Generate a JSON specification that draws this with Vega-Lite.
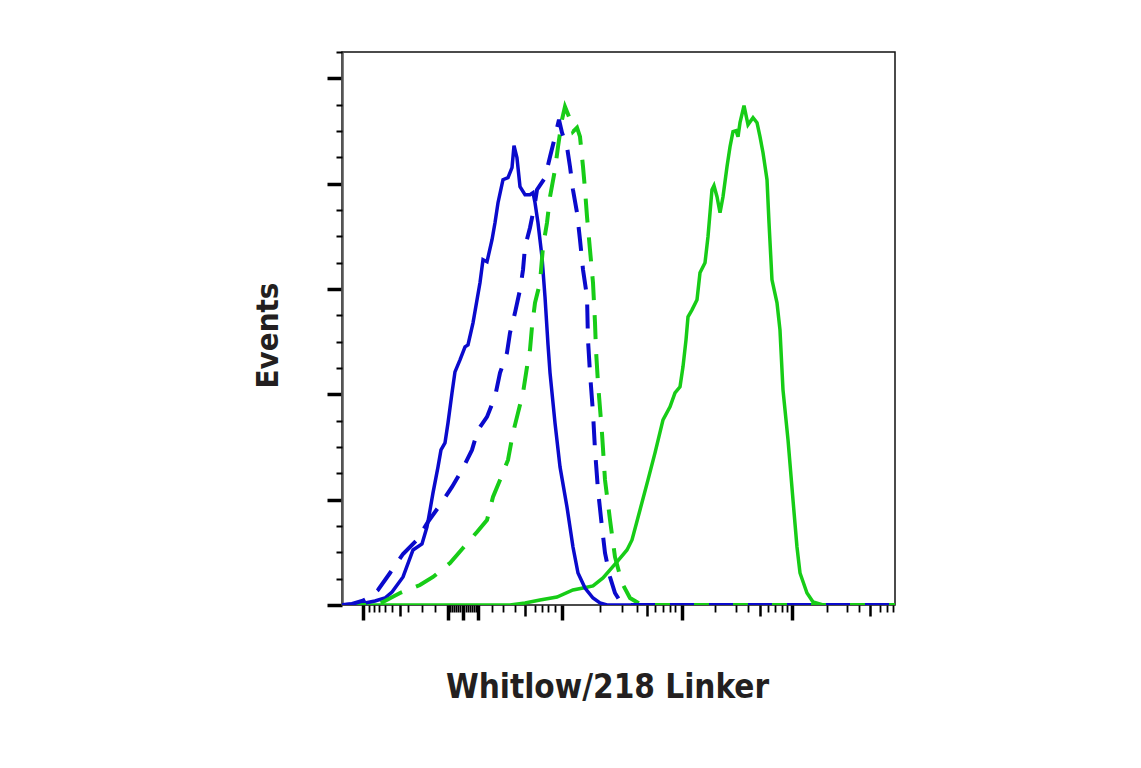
{
  "$schema": "https://vega.github.io/schema/vega-lite/v6.json",
  "autosize": "none",
  "padding": {"left": 342, "top": 52, "right": 246, "bottom": 163},
  "width": 553,
  "height": 553,
  "background": "white",
  "config": {"view": {"stroke": "#111", "strokeWidth": 1.5}},
  "data": {"values": [
    {"series": "blue solid", "channel": 0, "events": 0},
    {"series": "blue solid", "channel": 24.1, "events": 1.9},
    {"series": "blue solid", "channel": 42.6, "events": 3.8},
    {"series": "blue solid", "channel": 61.1, "events": 7.6},
    {"series": "blue solid", "channel": 79.6, "events": 13.3},
    {"series": "blue solid", "channel": 92.6, "events": 24.7},
    {"series": "blue solid", "channel": 113.0, "events": 53.2},
    {"series": "blue solid", "channel": 131.5, "events": 104.5},
    {"series": "blue solid", "channel": 148.1, "events": 115.9},
    {"series": "blue solid", "channel": 157.4, "events": 148.2},
    {"series": "blue solid", "channel": 163.0, "events": 180.5},
    {"series": "blue solid", "channel": 168.5, "events": 212.8},
    {"series": "blue solid", "channel": 177.8, "events": 262.2},
    {"series": "blue solid", "channel": 183.3, "events": 294.5},
    {"series": "blue solid", "channel": 190.7, "events": 307.8},
    {"series": "blue solid", "channel": 196.3, "events": 345.8},
    {"series": "blue solid", "channel": 203.7, "events": 402.8},
    {"series": "blue solid", "channel": 209.2, "events": 442.7},
    {"series": "blue solid", "channel": 218.5, "events": 465.5},
    {"series": "blue solid", "channel": 227.8, "events": 490.2},
    {"series": "blue solid", "channel": 233.3, "events": 494.0},
    {"series": "blue solid", "channel": 242.6, "events": 535.8},
    {"series": "blue solid", "channel": 255.5, "events": 611.8},
    {"series": "blue solid", "channel": 261.1, "events": 655.5},
    {"series": "blue solid", "channel": 268.5, "events": 651.7},
    {"series": "blue solid", "channel": 277.8, "events": 693.5},
    {"series": "blue solid", "channel": 283.3, "events": 725.8},
    {"series": "blue solid", "channel": 288.9, "events": 763.8},
    {"series": "blue solid", "channel": 298.1, "events": 807.5},
    {"series": "blue solid", "channel": 307.4, "events": 811.3},
    {"series": "blue solid", "channel": 314.8, "events": 830.3},
    {"series": "blue solid", "channel": 318.5, "events": 872.1},
    {"series": "blue solid", "channel": 324.0, "events": 849.3},
    {"series": "blue solid", "channel": 329.6, "events": 794.2},
    {"series": "blue solid", "channel": 338.9, "events": 779.0},
    {"series": "blue solid", "channel": 348.1, "events": 779.0},
    {"series": "blue solid", "channel": 353.7, "events": 782.8},
    {"series": "blue solid", "channel": 357.4, "events": 763.8},
    {"series": "blue solid", "channel": 362.9, "events": 725.8},
    {"series": "blue solid", "channel": 370.3, "events": 661.2},
    {"series": "blue solid", "channel": 375.9, "events": 585.2},
    {"series": "blue solid", "channel": 381.5, "events": 494.0},
    {"series": "blue solid", "channel": 385.2, "events": 440.8},
    {"series": "blue solid", "channel": 394.4, "events": 345.8},
    {"series": "blue solid", "channel": 403.7, "events": 262.2},
    {"series": "blue solid", "channel": 416.6, "events": 186.2},
    {"series": "blue solid", "channel": 427.7, "events": 110.2},
    {"series": "blue solid", "channel": 437.0, "events": 60.8},
    {"series": "blue solid", "channel": 450.0, "events": 32.3},
    {"series": "blue solid", "channel": 464.8, "events": 13.3},
    {"series": "blue solid", "channel": 477.7, "events": 3.8},
    {"series": "blue solid", "channel": 490.7, "events": 0},
    {"series": "blue solid", "channel": 1024, "events": 0},

    {"series": "blue dashed", "channel": 0, "events": 0},
    {"series": "blue dashed", "channel": 18.5, "events": 1.9},
    {"series": "blue dashed", "channel": 37.0, "events": 7.6},
    {"series": "blue dashed", "channel": 51.8, "events": 15.2},
    {"series": "blue dashed", "channel": 66.7, "events": 28.5},
    {"series": "blue dashed", "channel": 88.9, "events": 60.8},
    {"series": "blue dashed", "channel": 113.0, "events": 96.9},
    {"series": "blue dashed", "channel": 138.9, "events": 123.5},
    {"series": "blue dashed", "channel": 159.2, "events": 157.7},
    {"series": "blue dashed", "channel": 181.5, "events": 190.0},
    {"series": "blue dashed", "channel": 203.7, "events": 224.2},
    {"series": "blue dashed", "channel": 222.2, "events": 256.5},
    {"series": "blue dashed", "channel": 240.7, "events": 294.5},
    {"series": "blue dashed", "channel": 251.8, "events": 332.5},
    {"series": "blue dashed", "channel": 268.5, "events": 357.2},
    {"series": "blue dashed", "channel": 283.3, "events": 395.2},
    {"series": "blue dashed", "channel": 292.6, "events": 440.8},
    {"series": "blue dashed", "channel": 305.5, "events": 478.8},
    {"series": "blue dashed", "channel": 311.1, "events": 516.8},
    {"series": "blue dashed", "channel": 320.3, "events": 554.8},
    {"series": "blue dashed", "channel": 329.6, "events": 598.5},
    {"series": "blue dashed", "channel": 335.2, "events": 636.5},
    {"series": "blue dashed", "channel": 338.9, "events": 680.2},
    {"series": "blue dashed", "channel": 348.1, "events": 716.3},
    {"series": "blue dashed", "channel": 357.4, "events": 763.8},
    {"series": "blue dashed", "channel": 361.1, "events": 788.5},
    {"series": "blue dashed", "channel": 375.9, "events": 811.3},
    {"series": "blue dashed", "channel": 385.2, "events": 851.2},
    {"series": "blue dashed", "channel": 394.4, "events": 889.2},
    {"series": "blue dashed", "channel": 401.8, "events": 921.5},
    {"series": "blue dashed", "channel": 407.4, "events": 896.8},
    {"series": "blue dashed", "channel": 416.6, "events": 870.2},
    {"series": "blue dashed", "channel": 422.2, "events": 832.2},
    {"series": "blue dashed", "channel": 427.7, "events": 788.5},
    {"series": "blue dashed", "channel": 435.2, "events": 744.8},
    {"series": "blue dashed", "channel": 440.7, "events": 693.5},
    {"series": "blue dashed", "channel": 446.3, "events": 636.5},
    {"series": "blue dashed", "channel": 453.7, "events": 585.2},
    {"series": "blue dashed", "channel": 455.5, "events": 503.5},
    {"series": "blue dashed", "channel": 459.2, "events": 440.8},
    {"series": "blue dashed", "channel": 464.8, "events": 364.8},
    {"series": "blue dashed", "channel": 468.5, "events": 294.5},
    {"series": "blue dashed", "channel": 474.0, "events": 218.5},
    {"series": "blue dashed", "channel": 481.4, "events": 148.2},
    {"series": "blue dashed", "channel": 487.0, "events": 98.8},
    {"series": "blue dashed", "channel": 496.3, "events": 53.2},
    {"series": "blue dashed", "channel": 505.5, "events": 22.8},
    {"series": "blue dashed", "channel": 514.8, "events": 7.6},
    {"series": "blue dashed", "channel": 527.7, "events": 0},
    {"series": "blue dashed", "channel": 1024, "events": 0},

    {"series": "green dashed", "channel": 0, "events": 0},
    {"series": "green dashed", "channel": 61.1, "events": 0},
    {"series": "green dashed", "channel": 75.9, "events": 5.7},
    {"series": "green dashed", "channel": 107.4, "events": 22.8},
    {"series": "green dashed", "channel": 144.4, "events": 38.0},
    {"series": "green dashed", "channel": 168.5, "events": 53.2},
    {"series": "green dashed", "channel": 200.0, "events": 79.8},
    {"series": "green dashed", "channel": 224.1, "events": 108.3},
    {"series": "green dashed", "channel": 250.0, "events": 138.7},
    {"series": "green dashed", "channel": 268.5, "events": 161.5},
    {"series": "green dashed", "channel": 279.6, "events": 205.2},
    {"series": "green dashed", "channel": 292.6, "events": 237.5},
    {"series": "green dashed", "channel": 307.4, "events": 275.5},
    {"series": "green dashed", "channel": 316.6, "events": 326.8},
    {"series": "green dashed", "channel": 325.9, "events": 364.8},
    {"series": "green dashed", "channel": 335.2, "events": 402.8},
    {"series": "green dashed", "channel": 342.6, "events": 452.2},
    {"series": "green dashed", "channel": 348.1, "events": 484.5},
    {"series": "green dashed", "channel": 351.8, "events": 528.2},
    {"series": "green dashed", "channel": 357.4, "events": 573.8},
    {"series": "green dashed", "channel": 366.6, "events": 611.8},
    {"series": "green dashed", "channel": 372.2, "events": 680.2},
    {"series": "green dashed", "channel": 379.6, "events": 725.8},
    {"series": "green dashed", "channel": 385.2, "events": 775.2},
    {"series": "green dashed", "channel": 394.4, "events": 826.5},
    {"series": "green dashed", "channel": 400.0, "events": 870.2},
    {"series": "green dashed", "channel": 407.4, "events": 921.5},
    {"series": "green dashed", "channel": 412.9, "events": 946.2},
    {"series": "green dashed", "channel": 420.3, "events": 927.2},
    {"series": "green dashed", "channel": 427.7, "events": 898.7},
    {"series": "green dashed", "channel": 435.2, "events": 906.3},
    {"series": "green dashed", "channel": 440.7, "events": 889.2},
    {"series": "green dashed", "channel": 446.3, "events": 832.2},
    {"series": "green dashed", "channel": 450.0, "events": 788.5},
    {"series": "green dashed", "channel": 453.7, "events": 737.2},
    {"series": "green dashed", "channel": 459.2, "events": 674.5},
    {"series": "green dashed", "channel": 464.8, "events": 611.8},
    {"series": "green dashed", "channel": 468.5, "events": 535.8},
    {"series": "green dashed", "channel": 470.3, "events": 484.5},
    {"series": "green dashed", "channel": 474.0, "events": 421.8},
    {"series": "green dashed", "channel": 481.4, "events": 326.8},
    {"series": "green dashed", "channel": 487.0, "events": 237.5},
    {"series": "green dashed", "channel": 496.3, "events": 161.5},
    {"series": "green dashed", "channel": 505.5, "events": 91.2},
    {"series": "green dashed", "channel": 518.5, "events": 41.8},
    {"series": "green dashed", "channel": 533.3, "events": 13.3},
    {"series": "green dashed", "channel": 551.8, "events": 1.9},
    {"series": "green dashed", "channel": 570.3, "events": 0},
    {"series": "green dashed", "channel": 1024, "events": 0},

    {"series": "green solid", "channel": 0, "events": 0},
    {"series": "green solid", "channel": 311.1, "events": 0},
    {"series": "green solid", "channel": 338.9, "events": 3.8},
    {"series": "green solid", "channel": 366.6, "events": 9.5},
    {"series": "green solid", "channel": 398.1, "events": 15.2},
    {"series": "green solid", "channel": 427.7, "events": 28.5},
    {"series": "green solid", "channel": 446.3, "events": 32.3},
    {"series": "green solid", "channel": 464.8, "events": 36.1},
    {"series": "green solid", "channel": 483.3, "events": 51.3},
    {"series": "green solid", "channel": 509.2, "events": 81.7},
    {"series": "green solid", "channel": 527.7, "events": 104.5},
    {"series": "green solid", "channel": 537.0, "events": 123.5},
    {"series": "green solid", "channel": 551.8, "events": 180.5},
    {"series": "green solid", "channel": 566.6, "events": 237.5},
    {"series": "green solid", "channel": 579.6, "events": 288.8},
    {"series": "green solid", "channel": 594.4, "events": 351.5},
    {"series": "green solid", "channel": 607.4, "events": 376.2},
    {"series": "green solid", "channel": 616.6, "events": 402.8},
    {"series": "green solid", "channel": 625.9, "events": 414.2},
    {"series": "green solid", "channel": 631.4, "events": 452.2},
    {"series": "green solid", "channel": 637.0, "events": 503.5},
    {"series": "green solid", "channel": 640.7, "events": 547.2},
    {"series": "green solid", "channel": 648.1, "events": 560.5},
    {"series": "green solid", "channel": 657.4, "events": 579.5},
    {"series": "green solid", "channel": 662.9, "events": 630.8},
    {"series": "green solid", "channel": 672.2, "events": 649.8},
    {"series": "green solid", "channel": 677.7, "events": 699.2},
    {"series": "green solid", "channel": 685.1, "events": 788.5},
    {"series": "green solid", "channel": 688.8, "events": 796.1},
    {"series": "green solid", "channel": 694.4, "events": 775.2},
    {"series": "green solid", "channel": 700.0, "events": 744.8},
    {"series": "green solid", "channel": 705.5, "events": 775.2},
    {"series": "green solid", "channel": 712.9, "events": 832.2},
    {"series": "green solid", "channel": 718.5, "events": 870.2},
    {"series": "green solid", "channel": 724.0, "events": 898.7},
    {"series": "green solid", "channel": 729.6, "events": 900.6},
    {"series": "green solid", "channel": 733.3, "events": 889.2},
    {"series": "green solid", "channel": 737.0, "events": 915.8},
    {"series": "green solid", "channel": 744.4, "events": 948.1},
    {"series": "green solid", "channel": 751.8, "events": 912.0},
    {"series": "green solid", "channel": 761.1, "events": 925.3},
    {"series": "green solid", "channel": 768.5, "events": 915.8},
    {"series": "green solid", "channel": 774.0, "events": 889.2},
    {"series": "green solid", "channel": 779.6, "events": 858.8},
    {"series": "green solid", "channel": 787.0, "events": 807.5},
    {"series": "green solid", "channel": 790.7, "events": 725.8},
    {"series": "green solid", "channel": 796.2, "events": 617.5},
    {"series": "green solid", "channel": 805.5, "events": 573.8},
    {"series": "green solid", "channel": 811.0, "events": 522.5},
    {"series": "green solid", "channel": 816.6, "events": 408.5},
    {"series": "green solid", "channel": 825.9, "events": 313.5},
    {"series": "green solid", "channel": 835.1, "events": 199.5},
    {"series": "green solid", "channel": 842.5, "events": 110.2},
    {"series": "green solid", "channel": 848.1, "events": 60.8},
    {"series": "green solid", "channel": 861.0, "events": 22.8},
    {"series": "green solid", "channel": 872.2, "events": 5.7},
    {"series": "green solid", "channel": 890.7, "events": 0},
    {"series": "green solid", "channel": 1024, "events": 0}
  ]},
  "resolve": {"axis": {"x": "independent", "y": "independent"}},
  "layer": [
    {
      "transform": [{"filter": "datum.series == 'green solid'"}],
      "mark": {"type": "line", "color": "#17cc17", "strokeWidth": 3.5, "clip": true},
      "encoding": {
        "x": {"field": "channel", "type": "quantitative",
          "scale": {"domain": [0, 1024], "nice": false, "zero": false},
          "axis": {"orient": "bottom", "values": [38.9, 196.3, 224.1, 251.8, 408.3, 629.6, 833.3],
            "tickSize": 15, "tickWidth": 3.5, "tickColor": "#000", "labels": false, "domain": false, "grid": false,
            "title": "Whitlow/218 Linker", "titleFont": "DejaVu Sans Condensed, sans-serif",
            "titleFontSize": 33, "titleFontWeight": "bold", "titleColor": "#231f20",
            "titleX": 265, "titleY": 92, "titleAlign": "center", "titleBaseline": "alphabetic"}},
        "y": {"field": "events", "type": "quantitative",
          "scale": {"domain": [0, 1050], "nice": false, "zero": true},
          "axis": {"orient": "left", "values": [0, 200, 400, 600, 800, 1000],
            "tickSize": 15, "tickWidth": 3.5, "tickColor": "#000", "labels": false, "grid": false,
            "domain": true, "domainColor": "#555", "domainWidth": 2.5,
            "title": "Events", "titleFont": "DejaVu Sans Condensed, sans-serif",
            "titleFontSize": 31, "titleFontWeight": "bold", "titleColor": "#231f20",
            "titleAngle": -90, "titleX": -65, "titleY": 283, "titleAlign": "center", "titleBaseline": "alphabetic"}}
      }
    },
    {
      "transform": [{"filter": "datum.series == 'blue solid'"}],
      "mark": {"type": "line", "color": "#0a0acc", "strokeWidth": 3.5, "clip": true},
      "encoding": {
        "x": {"field": "channel", "type": "quantitative",
          "scale": {"domain": [0, 1024], "nice": false, "zero": false},
          "axis": {"orient": "bottom", "values": [107.4, 338.9, 564.8, 773.1, 977.7],
            "tickSize": 11, "tickWidth": 2.5, "tickColor": "#000", "labels": false, "domain": false, "grid": false, "title": null}},
        "y": {"field": "events", "type": "quantitative",
          "scale": {"domain": [0, 1050], "nice": false, "zero": true},
          "axis": {"orient": "left", "values": [50, 100, 150, 250, 300, 350, 450, 500, 550, 650, 700, 750, 850, 900, 950, 1050],
            "tickSize": 6, "tickWidth": 2, "tickColor": "#000", "labels": false, "grid": false, "domain": false, "title": null}}
      }
    },
    {
      "transform": [{"filter": "datum.series == 'green dashed'"}],
      "mark": {"type": "line", "color": "#17cc17", "strokeWidth": 4, "strokeDash": [24, 15], "clip": true},
      "encoding": {
        "x": {"field": "channel", "type": "quantitative",
          "scale": {"domain": [0, 1024], "nice": false, "zero": false},
          "axis": {"orient": "bottom", "values": [50.0, 59.3, 68.5, 79.6, 92.6, 122.2, 148.1, 172.2, 200.0, 203.7, 207.4, 211.1, 214.8, 218.5, 229.6, 233.3, 237.0, 240.7, 244.4, 248.1, 277.8, 298.1, 320.3, 357.4, 370.3, 381.5, 394.4, 477.7, 518.5, 546.3, 579.6, 594.4, 607.4, 616.6, 690.7, 729.6, 751.8, 788.8, 801.8, 814.8, 824.0, 898.1, 935.1, 957.3, 996.2, 1009.2, 1020.3],
            "tickSize": 7, "tickWidth": 1.8, "tickColor": "#000", "labels": false, "domain": false, "grid": false, "title": null}},
        "y": {"field": "events", "type": "quantitative",
          "scale": {"domain": [0, 1050], "nice": false, "zero": true}, "axis": null}
      }
    },
    {
      "transform": [{"filter": "datum.series == 'blue dashed'"}],
      "mark": {"type": "line", "color": "#0a0acc", "strokeWidth": 4, "strokeDash": [24, 15], "clip": true},
      "encoding": {
        "x": {"field": "channel", "type": "quantitative",
          "scale": {"domain": [0, 1024], "nice": false, "zero": false}, "axis": null},
        "y": {"field": "events", "type": "quantitative",
          "scale": {"domain": [0, 1050], "nice": false, "zero": true}, "axis": null}
      }
    }
  ]
}
